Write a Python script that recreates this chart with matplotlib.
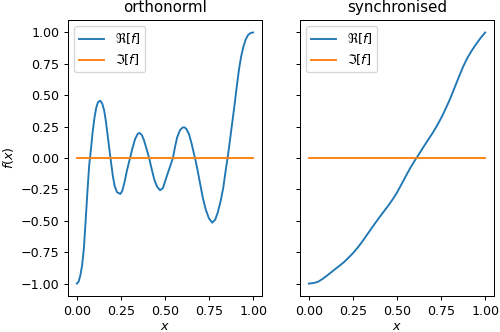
import matplotlib
matplotlib.use("Agg")
import matplotlib.pyplot as plt

# orthonormal basis result
x_orth = [0.000, 0.010, 0.020, 0.030, 0.040, 0.050, 0.060, 0.070, 0.080, 0.090, 0.100,
          0.110, 0.120, 0.133, 0.145, 0.155, 0.165, 0.175, 0.185, 0.195, 0.205, 0.215,
          0.228, 0.247, 0.258, 0.270, 0.285, 0.300, 0.315, 0.330, 0.345, 0.355, 0.368,
          0.380, 0.395, 0.410, 0.425, 0.440, 0.455, 0.472, 0.488, 0.503, 0.522, 0.545,
          0.557, 0.569, 0.585, 0.600, 0.610, 0.622, 0.636, 0.650, 0.664, 0.675, 0.685,
          0.700, 0.715, 0.731, 0.749, 0.768, 0.785, 0.800, 0.816, 0.830, 0.845, 0.857,
          0.870, 0.883, 0.895, 0.907, 0.920, 0.932, 0.945, 0.958, 0.970, 0.985, 1.000]
re_orth = [-1.000, -0.985, -0.935, -0.855, -0.720, -0.500, -0.270, -0.060, 0.070, 0.210,
           0.320, 0.400, 0.445, 0.457, 0.430, 0.380, 0.290, 0.180, 0.065, -0.045, -0.150,
           -0.225, -0.272, -0.286, -0.260, -0.195, -0.095, -0.010, 0.075, 0.150, 0.192,
           0.200, 0.185, 0.145, 0.075, 0.000, -0.090, -0.175, -0.228, -0.256, -0.240,
           -0.175, -0.095, 0.000, 0.090, 0.165, 0.222, 0.243, 0.245, 0.230, 0.190, 0.120,
           0.035, -0.030, -0.100, -0.210, -0.320, -0.410, -0.480, -0.515, -0.490, -0.430,
           -0.340, -0.240, -0.090, 0.020, 0.160, 0.300, 0.430, 0.570, 0.710, 0.810, 0.890,
           0.945, 0.978, 0.996, 1.000]

# synchronised result
x_sync = [0.000, 0.025, 0.050, 0.075, 0.100, 0.125, 0.150, 0.175, 0.200, 0.225, 0.250,
          0.275, 0.300, 0.325, 0.350, 0.375, 0.400, 0.425, 0.450, 0.475, 0.500, 0.525,
          0.550, 0.575, 0.600, 0.625, 0.650, 0.675, 0.700, 0.725, 0.750, 0.775, 0.800,
          0.825, 0.850, 0.875, 0.900, 0.925, 0.950, 0.975, 1.000]
re_sync = [-1.000, -0.996, -0.987, -0.966, -0.940, -0.912, -0.884, -0.857, -0.828, -0.794,
           -0.758, -0.717, -0.671, -0.621, -0.571, -0.521, -0.473, -0.426, -0.380, -0.330,
           -0.275, -0.210, -0.144, -0.080, -0.022, 0.032, 0.088, 0.142, 0.195, 0.253,
           0.318, 0.390, 0.468, 0.555, 0.643, 0.728, 0.800, 0.858, 0.910, 0.958, 1.000]

titles = ["orthonorml", "synchronised"]

dpi = 90.5
fig, axes = plt.subplots(1, 2, sharey=True, figsize=(500 / dpi, 332 / dpi), dpi=dpi)
fig.subplots_adjust(left=0.136, right=0.988, bottom=0.108, top=0.94, wspace=0.196)

for ax, xs, ys, title in zip(axes, [x_orth, x_sync], [re_orth, re_sync], titles):
    ax.plot(xs, ys, label=r"$\Re[f]$")
    ax.plot(xs, [0.0] * len(xs), label=r"$\Im[f]$")
    ax.set_title(title)
    ax.set_xlabel("$x$", labelpad=1.5)
    ax.set_xticks([0, 0.25, 0.5, 0.75, 1.0])
    ax.legend(loc="upper left")

axes[0].set_ylabel("$f(x)$")

fig.savefig("out.png", dpi=dpi)
